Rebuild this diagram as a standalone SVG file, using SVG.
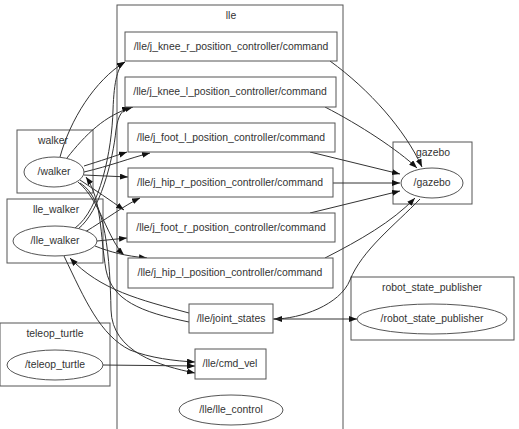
<svg xmlns="http://www.w3.org/2000/svg" width="519" height="429" viewBox="0 0 519 429">
<style>
.cl{fill:none;stroke:#555;stroke-width:1}
.nd{fill:#fff;stroke:#555;stroke-width:1}
.t{font-family:"Liberation Sans",Arial,sans-serif;font-size:10.4px;fill:#333;text-anchor:middle}
.e{fill:none;stroke:#333;stroke-width:1;marker-end:url(#ah)}
</style>
<defs>
<marker id="ah" markerUnits="userSpaceOnUse" markerWidth="9" markerHeight="7" refX="8" refY="3" orient="auto">
<path d="M0,0 L8,3 L0,6 z" fill="#111"/>
</marker>
</defs>
<rect width="519" height="429" fill="#fff"/>
<g id="cluster_lle"><rect class="cl" x="117" y="5" width="226" height="430"/><text class="t" x="231" y="19">lle</text></g>
<g id="cluster_walker"><rect class="cl" x="17" y="130" width="76" height="63"/><text class="t" x="53" y="144">walker</text></g>
<g id="cluster_lle_walker"><rect class="cl" x="7" y="199" width="96" height="64"/><text class="t" x="56" y="213">lle_walker</text></g>
<g id="cluster_teleop_turtle"><rect class="cl" x="0" y="323" width="110" height="63"/><text class="t" x="55" y="337">teleop_turtle</text></g>
<g id="cluster_gazebo"><rect class="cl" x="393" y="142" width="79" height="62"/><text class="t" x="433" y="156">gazebo</text></g>
<g id="cluster_robot_state_publisher"><rect class="cl" x="351" y="277" width="163" height="63"/><text class="t" x="432" y="291">robot_state_publisher</text></g>

<g id="edges">
<path class="e" d="M330,61 C370,90 405,130 422,167"/>
<path class="e" d="M325,107 C360,125 398,150 417,168"/>
<path class="e" d="M310,152 L400,174"/>
<path class="e" d="M333,183 L400,183"/>
<path class="e" d="M310,213 L400,191"/>
<path class="e" d="M325,258 C360,240 392,222 415,198"/>
<path class="e" d="M420,199 C395,225 362,250 350,280 C340,305 300,319 274,319"/>
<path class="e" d="M273,319 L357,319"/>
<path class="e" d="M103,365 L195,366"/>
<path class="e" d="M60,157 C70,120 95,80 125,62"/>
<path class="e" d="M67,158 C85,135 105,115 133,107"/>
<path class="e" d="M84,166 C100,161 115,156 127,152"/>
<path class="e" d="M84,172 C110,166 130,158 150,153"/>
<path class="e" d="M84,175 L128,177"/>
<path class="e" d="M80,180 C95,190 110,200 124,210"/>
<path class="e" d="M78,182 C100,200 108,240 124,255"/>
<path class="e" d="M80,183 C106,198 110,260 111,310 C112,352 160,366 195,373"/>
<path class="e" d="M75,228 C100,210 112,150 113,110 C114,80 118,66 125,62"/>
<path class="e" d="M78,229 C100,212 113,160 116,130 C118,115 122,110 130,107"/>
<path class="e" d="M85,232 C105,220 125,205 140,198"/>
<path class="e" d="M97,241 L127,238"/>
<path class="e" d="M95,246 C110,252 125,256 147,258"/>
<path class="e" d="M64,256 C85,300 100,335 130,350 C150,358 175,361 195,362"/>
<path class="e" d="M189,313 C140,300 100,290 70,258"/>
<path class="e" d="M189,322 C140,312 112,300 106,270 C100,235 102,200 86,177"/>
</g>

<g id="n_knee_r"><rect class="nd" x="125" y="32" width="212" height="29"/><text class="t" x="231" y="50">/lle/j_knee_r_position_controller/command</text></g>
<g id="n_knee_l"><rect class="nd" x="125" y="77" width="211" height="30"/><text class="t" x="230" y="95">/lle/j_knee_l_position_controller/command</text></g>
<g id="n_foot_l"><rect class="nd" x="128" y="123" width="207" height="29"/><text class="t" x="231" y="141">/lle/j_foot_l_position_controller/command</text></g>
<g id="n_hip_r"><rect class="nd" x="128" y="168" width="205" height="29"/><text class="t" x="230" y="186">/lle/j_hip_r_position_controller/command</text></g>
<g id="n_foot_r"><rect class="nd" x="127" y="213" width="208" height="29"/><text class="t" x="231" y="231">/lle/j_foot_r_position_controller/command</text></g>
<g id="n_hip_l"><rect class="nd" x="128" y="258" width="205" height="30"/><text class="t" x="230" y="276">/lle/j_hip_l_position_controller/command</text></g>
<g id="n_joint_states"><rect class="nd" x="189" y="304" width="84" height="29"/><text class="t" x="231" y="322">/lle/joint_states</text></g>
<g id="n_cmd_vel"><rect class="nd" x="195" y="349" width="71" height="30"/><text class="t" x="230" y="367">/lle/cmd_vel</text></g>
<g id="n_lle_control"><ellipse class="nd" cx="231" cy="410" rx="52" ry="15"/><text class="t" x="231" y="413">/lle/lle_control</text></g>
<g id="n_walker"><ellipse class="nd" cx="54" cy="172" rx="30" ry="15"/><text class="t" x="54" y="175">/walker</text></g>
<g id="n_lle_walker"><ellipse class="nd" cx="55" cy="241" rx="42" ry="15"/><text class="t" x="55" y="244">/lle_walker</text></g>
<g id="n_teleop_turtle"><ellipse class="nd" cx="55" cy="365" rx="48" ry="15"/><text class="t" x="55" y="368">/teleop_turtle</text></g>
<g id="n_gazebo"><ellipse class="nd" cx="432" cy="183" rx="31" ry="15"/><text class="t" x="432" y="186">/gazebo</text></g>
<g id="n_robot_state_publisher"><ellipse class="nd" cx="432" cy="319" rx="75" ry="15"/><text class="t" x="432" y="322">/robot_state_publisher</text></g>
</svg>
